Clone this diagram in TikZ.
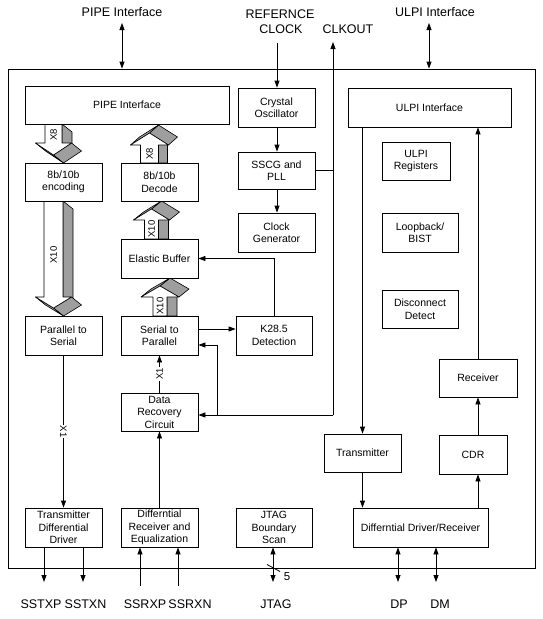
\documentclass[tikz,border=0pt]{standalone}
\usepackage{fontspec}
\setmainfont{Liberation Sans}
\usetikzlibrary{arrows.meta}
\tikzset{
 box/.style={draw, fill=white, inner sep=0pt, align=center, font=\fontsize{10.5}{12.5}\selectfont, line width=0.8pt},
 conn/.style={line width=0.8pt, -{Triangle[length=7pt,width=5pt]}},
 dconn/.style={line width=0.8pt, {Triangle[length=7pt,width=5pt]}-{Triangle[length=7pt,width=5pt]}},
 plain/.style={line width=0.8pt},
 outlbl/.style={font=\fontsize{12.5}{14}\selectfont, inner sep=0pt},
 shaftlbl/.style={font=\fontsize{9.5}{11}\selectfont, inner sep=0.5pt, rotate=90},
 linelbl/.style={font=\fontsize{9.5}{11}\selectfont, inner sep=1pt, fill=white},
 face/.style={fill=black!38, draw=black, line width=0.6pt, line join=round},
 front/.style={fill=white, draw=black, line width=0.6pt, line join=round},
}
% box: name, x1, y1, x2, y2, text
\newcommand{\bx}[6]{\node[box, minimum width={(#4-#2)*1pt}, minimum height={(#5-#3)*1pt}] (#1) at ({(#2+#4)/2},{(#3+#5)/2}) {#6};}
% down block arrow: cx w y0 yw W yt dx dy
\newcommand{\dnarr}[8]{%
  \draw[face] (#1+#2,#3) -- (#1+#2+#7,#3+#8) -- (#1+#2+#7,#4+#8) -- (#1+#2,#4) -- cycle;
  \draw[face] (#1+#5,#4) -- (#1,#6) -- (#1+#7,#6+#8) -- (#1+#5+#7,#4+#8) -- cycle;
  \draw[face] (#1,#6) -- (#1-#5,#4) -- (#1-#5+#7,#4+#8) -- (#1+#7,#6+#8) -- cycle;
  \draw[front] (#1-#2,#3) -- (#1+#2,#3) -- (#1+#2,#4) -- (#1+#5,#4) -- (#1,#6) -- (#1-#5,#4) -- (#1-#2,#4) -- cycle;
}
% up block arrow: cx w y0 yw W yt dx dy (dy positive, drawn upwards)
\newcommand{\uparr}[8]{%
  \draw[face] (#1+#2,#3) -- (#1+#2+#7,#3) -- (#1+#2+#7,#4-#8) -- (#1+#2,#4) -- cycle;
  \draw[face] (#1+#5,#4) -- (#1,#6) -- (#1+#7,#6-#8) -- (#1+#5+#7,#4-#8) -- cycle;
  \draw[face] (#1,#6) -- (#1-#5,#4) -- (#1-#5+#7,#4-#8) -- (#1+#7,#6-#8) -- cycle;
  \draw[front] (#1-#2,#3) -- (#1+#2,#3) -- (#1+#2,#4) -- (#1+#5,#4) -- (#1,#6) -- (#1-#5,#4) -- (#1-#2,#4) -- cycle;
}
\begin{document}
\begin{tikzpicture}[x=1pt,y=-1pt]
\useasboundingbox (0,0) rectangle (542,619);
\fill[white] (0,0) rectangle (542,619);

% outer frame
\node[draw, line width=0.8pt, minimum width=527pt, minimum height=499pt, inner sep=0pt] (frame) at (271.5,318.5) {};

% block arrows
\dnarr{53.5}{8.5}{124}{143}{18}{155}{10}{8}
\node[shaftlbl] (l1) at (53.5,135) {X8};
\uparr{149.5}{9}{163}{145}{19}{133}{9}{8}
\node[shaftlbl] (l2) at (149.5,154) {X8};
\dnarr{53.5}{9.5}{201}{297}{18}{308}{10}{8}
\node[shaftlbl] (l3) at (53.5,255) {X10};
\uparr{151.5}{7}{239}{220}{18}{209}{10}{8}
\node[shaftlbl] (l4) at (151.5,229) {X10};
\uparr{160}{7}{316}{297}{19}{286}{10}{8}
\node[shaftlbl] (l5) at (160,306) {X10};

% boxes
\bx{pipe}{25}{86}{229}{124}{PIPE Interface}
\bx{xtal}{238}{88}{315}{127}{Crystal\\Oscillator}
\bx{sscg}{238}{152}{315}{189}{SSCG and\\PLL}
\bx{clkgen}{238}{213}{315}{252}{Clock\\Generator}
\bx{ulpi}{348}{88}{511}{127}{ULPI Interface}
\bx{ulpireg}{382}{142}{450}{180}{ULPI\\Registers}
\bx{loop}{382}{213}{458}{252}{Loopback/\\BIST}
\bx{disc}{382}{290}{458}{328}{Disconnect\\Detect}
\bx{rcv}{439}{359}{517}{397}{Receiver}
\bx{enc}{25}{163}{102}{201}{8b/10b\\encoding}
\bx{dec}{121}{163}{198}{201}{8b/10b\\Decode}
\bx{eb}{121}{239}{198}{278}{Elastic Buffer}
\bx{p2s}{25}{316}{102}{355}{Parallel to\\Serial}
\bx{s2p}{121}{316}{198}{355}{Serial to\\Parallel}
\bx{k28}{236}{316}{312}{355}{K28.5\\Detection}
\bx{drc}{121}{393}{198}{431}{Data\\Recovery\\Circuit}
\bx{txd}{25}{508}{102}{547}{Transmitter\\Differential\\Driver}
\bx{dre}{121}{508}{198}{547}{Differntial\\Receiver and\\Equalization}
\bx{jtag}{236}{508}{312}{547}{JTAG\\Boundary\\Scan}
\bx{tx}{324}{434}{401}{472}{Transmitter}
\bx{cdr}{439}{435}{507}{474}{CDR}
\bx{ddr}{353}{508}{488}{547}{Differntial Driver/Receiver}

% outer labels
\node[outlbl] (lpipe) at (122,12) {PIPE Interface};
\node[outlbl] (lref) at (280,14) {REFERNCE};
\node[outlbl] (lclk) at (281,29) {CLOCK};
\node[outlbl] (lclko) at (348,29) {CLKOUT};
\node[outlbl] (lulpi) at (435,12) {ULPI Interface};
\node[outlbl] (lsstxp) at (41,604) {SSTXP};
\node[outlbl] (lsstxn) at (85.5,604) {SSTXN};
\node[outlbl] (lssrxp) at (145,604) {SSRXP};
\node[outlbl] (lssrxn) at (190,604) {SSRXN};
\node[outlbl] (ljtag) at (276,604) {JTAG};
\node[outlbl] (ldp) at (399,604) {DP};
\node[outlbl] (ldm) at (440,604) {DM};

% coordinates for free ends
\coordinate (pipeext) at (122,23);
\coordinate (ulpiext) at (429,23);
\coordinate (refclk) at (277,43);
\coordinate (clkout) at (333,42);
\coordinate (clkbot) at (333,415);
\coordinate (brbot) at (217,415);
\coordinate (brtop) at (217,345);
\coordinate (sstxp) at (44,582);
\coordinate (sstxn) at (83,582);
\coordinate (ssrxp) at (140,586);
\coordinate (ssrxn) at (178,586);
\coordinate (jtagp) at (273,582);
\coordinate (dp) at (398,582);
\coordinate (dm) at (436,582);

% connectors
\draw[dconn] (pipeext) -- (pipeext |- frame.north);
\draw[dconn] (ulpiext) -- (ulpiext |- frame.north);
\draw[conn] (refclk) -- (refclk |- xtal.north);
\draw[conn] (refclk |- xtal.south) -- (refclk |- sscg.north);
\draw[conn] (refclk |- sscg.south) -- (refclk |- clkgen.north);
\draw[plain] (sscg.east) -- (sscg.east -| clkout);
\draw[conn] (clkbot) -- (clkout);
\draw[conn] (clkbot) -- (clkbot -| drc.east);
\draw[conn] (brbot) -- (brtop) -- (brtop -| s2p.east);
\draw[conn] (k28.north) |- (eb.east);
\draw[conn] ([yshift=6.5pt]s2p.east) -- ([yshift=6.5pt]k28.west);
\draw[conn] (p2s.south) -- node[linelbl, rotate=-90] (x1a) {X1} (txd.north);
\draw[conn] (drc.north) -- node[linelbl, rotate=90] (x1b) {X1} (s2p.south);
\draw[conn] (dre.north) -- (drc.south);
\draw[conn] (sstxp |- txd.south) -- (sstxp);
\draw[conn] (sstxn |- txd.south) -- (sstxn);
\draw[conn] (ssrxp) -- (ssrxp |- dre.south);
\draw[conn] (ssrxn) -- (ssrxn |- dre.south);
\draw[dconn] (jtagp |- jtag.south) -- (jtagp);
\draw[plain] (267,564.5) -- (280,571.5);
\node[outlbl, font=\fontsize{11.5}{13}\selectfont] (five) at (287,577) {5};
\draw[dconn] (dp |- ddr.south) -- (dp);
\draw[dconn] (dm |- ddr.south) -- (dm);
\draw[conn] (tx.north |- ulpi.south) -- (tx.north);
\draw[conn] (tx.south) -- (tx.south |- ddr.north);
\draw[conn] (rcv.north) -- (rcv.north |- ulpi.south);
\draw[conn] (rcv.south |- cdr.north) -- (rcv.south);
\draw[conn] (rcv.south |- ddr.north) -- (rcv.south |- cdr.south);
\end{tikzpicture}
\end{document}
